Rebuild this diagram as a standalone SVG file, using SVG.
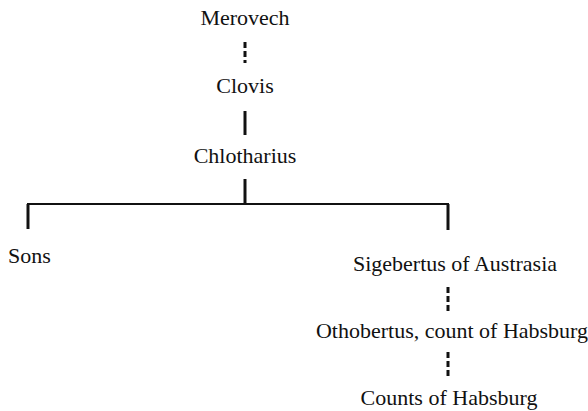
<svg xmlns="http://www.w3.org/2000/svg" width="588" height="411" viewBox="0 0 588 411">
  <style>
    .t { font-size: 22px; fill: #111; }
    .c { text-anchor: middle; }
    .solid { stroke: #111; stroke-width: 3; fill: none; }
    .bar { stroke: #111; stroke-width: 2; fill: none; }
    .dash { stroke: #111; stroke-width: 3; fill: none; stroke-dasharray: 6 3; }
  </style>
  <rect width="588" height="411" fill="#fff"/>
  <g id="connectors">
    <line class="dash" x1="245" y1="42" x2="245" y2="63"/>
    <line class="solid" x1="245" y1="111" x2="245" y2="135"/>
    <line class="solid" x1="245" y1="179" x2="245" y2="205"/>
    <polyline class="bar" points="28,229 28,204 448,204 448,230"/>
    <line class="solid" x1="28" y1="204" x2="28" y2="229"/>
    <line class="solid" x1="448" y1="204" x2="448" y2="230"/>
    <line class="dash" x1="448" y1="287" x2="448" y2="312"/>
    <line class="dash" x1="448" y1="352" x2="448" y2="377"/>
  </g>
  <g id="merovech"><text class="t c" font-family="Liberation Serif" x="245" y="25">Merovech</text></g>
  <g id="clovis"><text class="t c" font-family="Times New Roman" x="245" y="93">Clovis</text></g>
  <g id="chlotharius"><text class="t c" font-family="Times New Roman" x="245" y="163">Chlotharius</text></g>
  <g id="sons"><text class="t" font-family="serif" x="8" y="263">Sons</text></g>
  <g id="sigebertus"><text class="t c" font-family="Times New Roman" x="455" y="271">Sigebertus of Austrasia</text></g>
  <g id="othobertus"><text class="t c" font-family="serif" x="452" y="338">Othobertus, count of Habsburg</text></g>
  <g id="counts"><text class="t c" font-family="Liberation Serif" x="449" y="405">Counts of Habsburg</text></g>
</svg>
